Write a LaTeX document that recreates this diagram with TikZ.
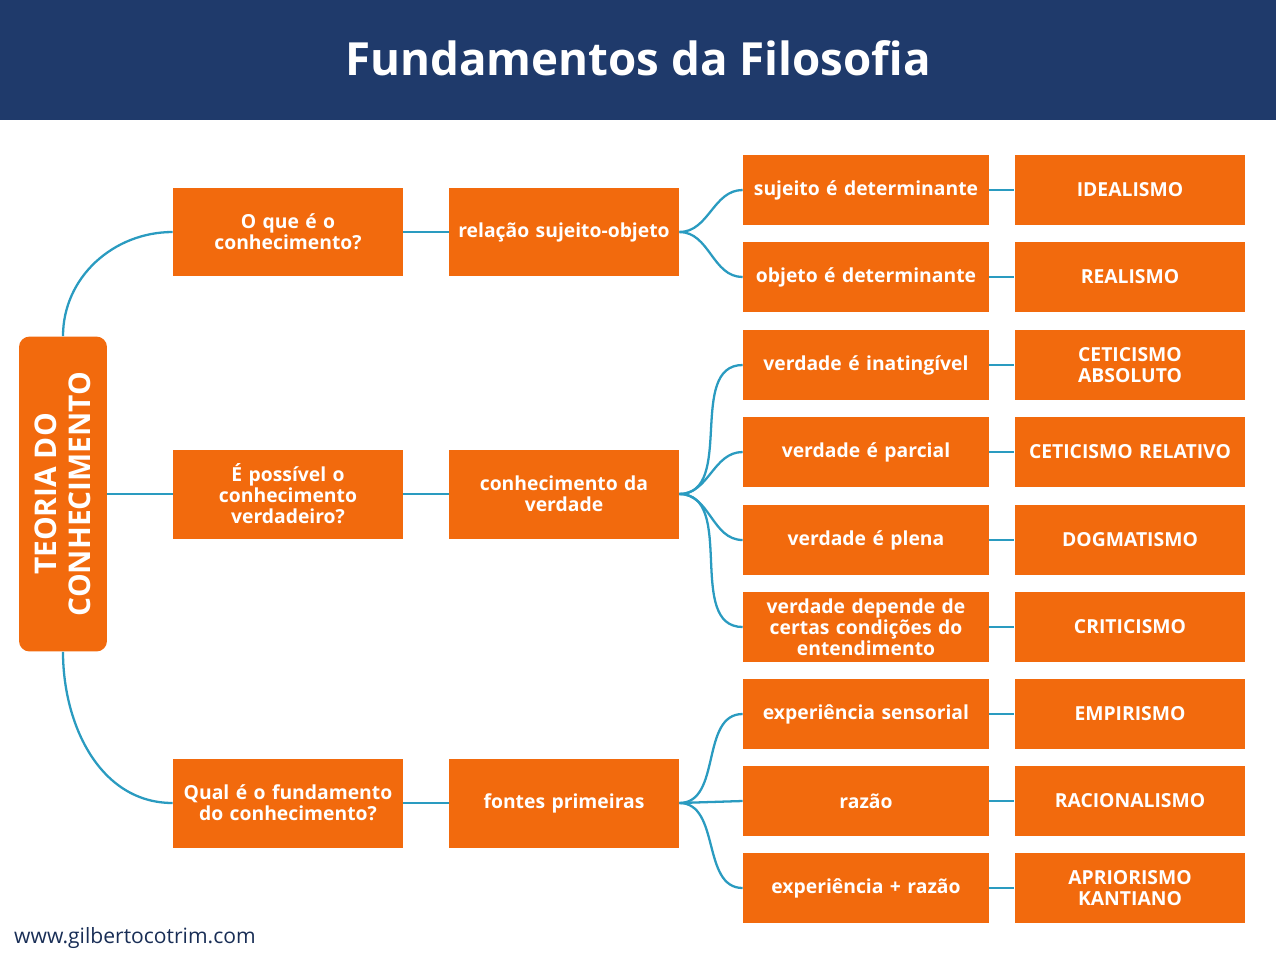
\documentclass[tikz,border=0pt]{standalone}
\usepackage{fontspec}
\setmainfont{Open Sans}
\usetikzlibrary{positioning}
\definecolor{barra}{HTML}{1F3A6B}
\definecolor{laranja}{HTML}{F26A0D}
\definecolor{linha}{HTML}{2A9BC0}
\tikzset{
  caixa/.style={fill=laranja, text=white, align=center, font=\fontsize{11}{12}\selectfont\bfseries, inner sep=1pt},
  grande/.style={caixa, minimum width=4.6cm, minimum height=1.78cm, text width=4.4cm},
  ramo/.style={caixa, minimum width=4.92cm, minimum height=1.4cm, text width=4.8cm},
  escola/.style={caixa, minimum width=4.62cm, minimum height=1.4cm, text width=4.5cm},
  liga/.style={draw=linha, line width=1.3pt}
}
\begin{document}
\begin{tikzpicture}[x=0.02cm, y=-0.02cm]
\useasboundingbox (0,0) rectangle (1276,958);
\fill[barra] (0,0) rectangle (1276,120);
\node[text=white, font=\fontsize{26}{30}\selectfont\bfseries] (titulo) at (638,58) {Fundamentos da Filosofia};
% raiz
\node[caixa, rounded corners=6pt, minimum width=1.76cm, minimum height=6.3cm] (raiz) at (63,494) {};
\node[text=white, rotate=90, align=center, font=\fontsize{17}{19}\selectfont\bfseries] (raiztxt) at (63,494) {TEORIA DO\\CONHECIMENTO};
% perguntas
\node[grande] (q1) at (288,232) {O que é o\\conhecimento?};
\node[grande] (q2) at (288,494) {É possível o\\conhecimento\\verdadeiro?};
\node[grande] (q3) at (288,803) {Qual é o fundamento\\do conhecimento?};
\node[grande] (t1) at (564,232) {relação sujeito-objeto};
\node[grande] (t2) at (564,494) {conhecimento da\\verdade};
\node[grande] (t3) at (564,803) {fontes primeiras};
% ramos
\node[ramo] (r1) at (866,190) {sujeito é determinante};
\node[ramo] (r2) at (866,277) {objeto é determinante};
\node[ramo] (r3) at (866,365) {verdade é inatingível};
\node[ramo] (r4) at (866,452) {verdade é parcial};
\node[ramo] (r5) at (866,540) {verdade é plena};
\node[ramo] (r6) at (866,627) {verdade depende de\\certas condições do\\entendimento};
\node[ramo] (r7) at (866,714) {experiência sensorial};
\node[ramo] (r8) at (866,801) {razão};
\node[ramo] (r9) at (866,888) {experiência + razão};
% escolas
\node[escola] (e1) at (1130,190) {IDEALISMO};
\node[escola] (e2) at (1130,277) {REALISMO};
\node[escola] (e3) at (1130,365) {CETICISMO\\ABSOLUTO};
\node[escola] (e4) at (1130,452) {CETICISMO RELATIVO};
\node[escola] (e5) at (1130,540) {DOGMATISMO};
\node[escola] (e6) at (1130,627) {CRITICISMO};
\node[escola] (e7) at (1130,714) {EMPIRISMO};
\node[escola] (e8) at (1130,801) {RACIONALISMO};
\node[escola] (e9) at (1130,888) {APRIORISMO\\KANTIANO};
% ligações
\draw[liga] (raiz.north) to[out=90, in=180] (q1.west);
\draw[liga] (raiz.east) -- (q2.west);
\draw[liga] (raiz.south) to[out=-90, in=180] (q3.west);
\draw[liga] (q1) -- (t1);
\draw[liga] (q2) -- (t2);
\draw[liga] (q3) -- (t3);
\draw[liga] (t1.east) to[out=0, in=180] (r1.west);
\draw[liga] (t1.east) to[out=0, in=180] (r2.west);
\draw[liga] (t2.east) to[out=0, in=180] (r3.west);
\draw[liga] (t2.east) to[out=0, in=180] (r4.west);
\draw[liga] (t2.east) to[out=0, in=180] (r5.west);
\draw[liga] (t2.east) to[out=0, in=180] (r6.west);
\draw[liga] (t3.east) to[out=0, in=180] (r7.west);
\draw[liga] (t3.east) -- (r8.west);
\draw[liga] (t3.east) to[out=0, in=180] (r9.west);
\draw[liga] (r1) -- (e1);
\draw[liga] (r2) -- (e2);
\draw[liga] (r3) -- (e3);
\draw[liga] (r4) -- (e4);
\draw[liga] (r5) -- (e5);
\draw[liga] (r6) -- (e6);
\draw[liga] (r7) -- (e7);
\draw[liga] (r8) -- (e8);
\draw[liga] (r9) -- (e9);
\node[anchor=west, text=barra!80!black, font=\fontsize{12}{14}\selectfont] (site) at (8,938) {www.gilbertocotrim.com};
\end{tikzpicture}
\end{document}
